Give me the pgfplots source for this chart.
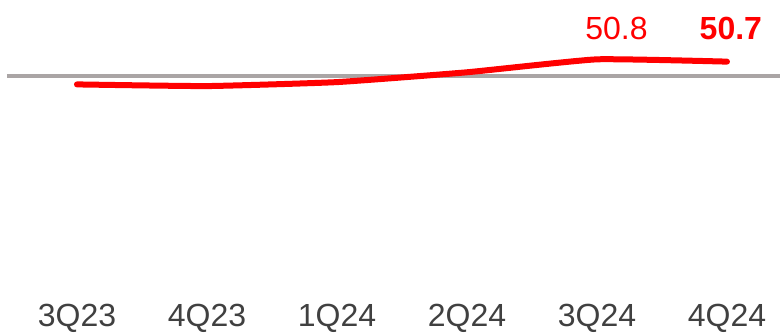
\documentclass[border=0pt]{standalone}
\usepackage{pgfplots}
\pgfplotsset{compat=1.18}
\usepackage{fontspec}
\setmainfont{Liberation Sans}
\definecolor{gline}{RGB}{170,165,165}
\definecolor{ticktxt}{RGB}{64,64,64}
\begin{document}
\begin{tikzpicture}
\begin{axis}[
  scale only axis,
  width=780pt, height=290pt,
  xmin=-0.592, xmax=5.408,
  ymin=39.76, ymax=53.64,
  axis x line*=bottom,
  axis y line=none,
  x axis line style={draw=none},
  clip=false,
  xtick={0,1,2,3,4,5},
  xticklabels={3Q23,4Q23,1Q24,2Q24,3Q24,4Q24},
  xticklabel style={text=ticktxt, font=\fontsize{32}{36}\selectfont, anchor=north, inner sep=0pt, yshift=-14pt},
  major tick length=0pt,
  ytick=\empty,
]
\coordinate (tl) at (rel axis cs:0,1);
\coordinate (br) at (rel axis cs:1,0);
\addplot[gline, line width=4pt] coordinates {(-0.54,50) (5.408,50)};
\addplot[red, line width=6pt, line cap=round, smooth, tension=0.25] coordinates {
(0,49.60) (1,49.52) (2,49.71) (3,50.18) (4,50.80) (5,50.69)};
\node[anchor=base, red, font=\fontsize{32}{36}\selectfont] at (axis cs:4.15,51.75) {50.8};
\node[anchor=base, red, font=\fontsize{32}{36}\selectfont\bfseries] at (axis cs:5.03,51.75) {50.7};
\end{axis}
\pgfresetboundingbox
\path (tl) rectangle ([yshift=-43pt]br);
\end{tikzpicture}
\end{document}
